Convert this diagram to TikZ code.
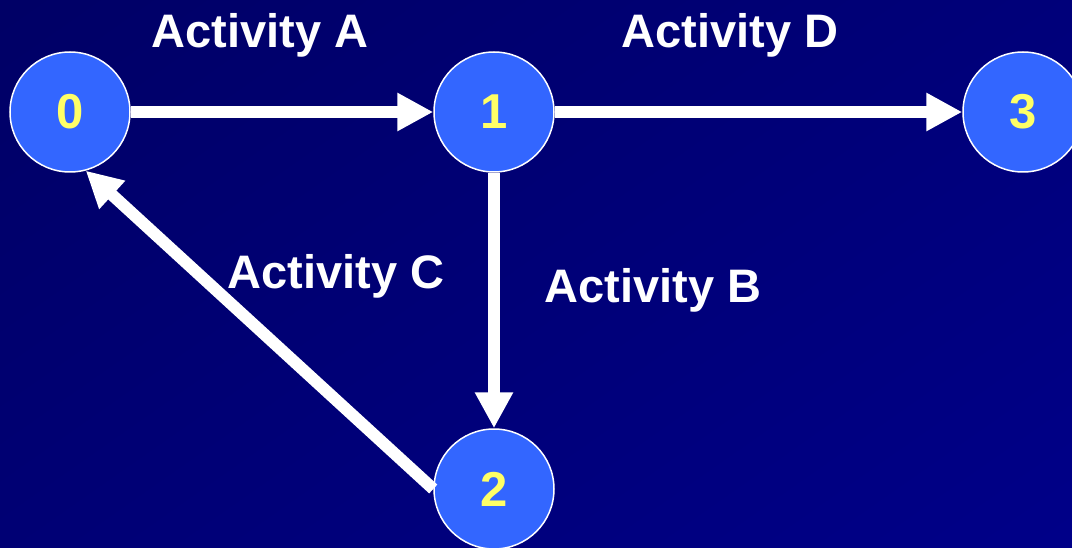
\documentclass[tikz,border=0pt]{standalone}
\usepackage{fontspec}
\setmainfont{Liberation Sans}
\usetikzlibrary{arrows.meta}
\definecolor{bgA}{RGB}{0,0,100}
\definecolor{bgB}{RGB}{0,0,138}
\definecolor{nodefill}{RGB}{51,102,255}
\definecolor{numyellow}{RGB}{255,255,102}
\tikzset{
  evnode/.style={circle, fill=nodefill, draw=white, line width=1.5pt,
    minimum size=120pt, inner sep=0pt, text=numyellow,
    font=\fontsize{49}{52}\selectfont\bfseries},
  actlabel/.style={anchor=base, text=white, inner sep=0pt,
    font=\fontsize{47}{50}\selectfont\bfseries},
  arr/.style={draw=white, line width=12pt,
    -{Triangle[length=36pt,width=36pt]}}
}
\begin{document}
\begin{tikzpicture}[x=1pt,y=-1pt]
\useasboundingbox (0,0) rectangle (1072,548);
\clip (0,0) rectangle (1072,548);
\shade[top color=bgA, bottom color=bgB, shading angle=35] (-200,-200) rectangle (1272,748);
\node[evnode] (n0) at (70,112) {0};
\node[evnode] (n1) at (494,112) {1};
\node[evnode] (n2) at (494,489) {2};
\node[evnode] (n3) at (1023,112) {3};
\draw[arr] (n0) -- (n1);
\draw[arr] (n1) -- (n3);
\draw[arr] (n1) -- (n2);
\draw[arr] (n2.180) -- (n0.-75);
\node[actlabel] (lA) at (260,48) {Activity A};
\node[actlabel] (lD) at (730,48) {Activity D};
\node[actlabel] (lC) at (336,289) {Activity C};
\node[actlabel] (lB) at (653,303) {Activity B};
\end{tikzpicture}
\end{document}
